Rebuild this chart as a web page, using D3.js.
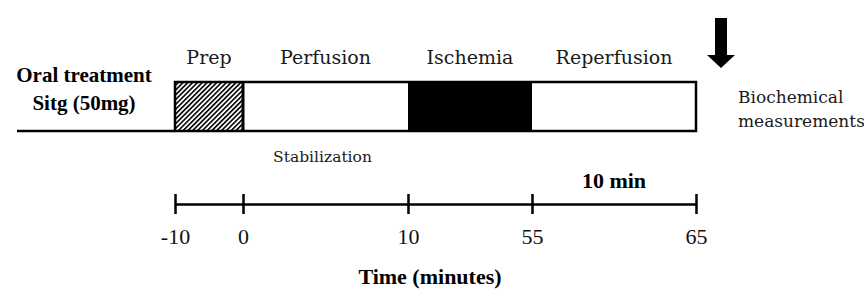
<!DOCTYPE html>
<html>
<head>
<meta charset="utf-8">
<script src="https://cdn.jsdelivr.net/npm/d3@7.9.0/dist/d3.min.js"></script>
<style>
  body { margin: 0; background: #fff; }
  svg { display: block; }
</style>
</head>
<body>
<div id="chart"></div>
<script>
// protocol phases and their time boundaries (minutes)
const phaseNames = ["Prep", "Perfusion", "Ischemia", "Reperfusion"];
const phaseFills = ["hatch", "white", "black", "white"];
const timePoints = [-10, 0, 10, 55, 65];
const treatmentLines = ["Oral treatment", "Sitg (50mg)"];
const endLines = ["Biochemical", "measurements"];
const subLabel = "Stabilization";
const spanLabel = "10 min";
const axisTitle = "Time (minutes)";

const width = 864, height = 291;
// schematic (non-proportional) timeline
const x = d3.scaleLinear().domain(timePoints).range([175, 243, 408, 532, 696]);

const svg = d3.select("#chart").append("svg")
  .attr("width", width)
  .attr("height", height);

const defs = svg.append("defs");
const pat = defs.append("pattern")
  .attr("id", "hatch")
  .attr("patternUnits", "userSpaceOnUse")
  .attr("width", 3.4).attr("height", 3.4)
  .attr("patternTransform", "rotate(45)");
pat.append("rect").attr("width", 3.4).attr("height", 3.4).attr("fill", "#fff");
pat.append("line")
  .attr("x1", 0).attr("y1", 0).attr("x2", 0).attr("y2", 3.4)
  .attr("stroke", "#000").attr("stroke-width", 3.2);

const boxTop = 82, boxBottom = 131;
const serif = "'Liberation Serif', 'Times New Roman', serif";
const serif2 = "'DejaVu Serif', serif";

// baseline leading into the box
svg.append("line")
  .attr("x1", 17).attr("x2", x(timePoints[0]))
  .attr("y1", boxBottom).attr("y2", boxBottom)
  .attr("stroke", "#000").attr("stroke-width", 2.5);

const phases = phaseNames.map((name, i) => ({
  name: name, fill: phaseFills[i], t0: timePoints[i], t1: timePoints[i + 1]
}));

svg.append("g").selectAll("rect")
  .data(phases)
  .enter().append("rect")
  .attr("x", d => x(d.t0))
  .attr("y", boxTop)
  .attr("width", d => x(d.t1) - x(d.t0))
  .attr("height", boxBottom - boxTop)
  .attr("fill", d => d.fill === "hatch" ? "url(#hatch)" : (d.fill === "black" ? "#000" : "#fff"));

// outer frame
svg.append("rect")
  .attr("x", x(timePoints[0])).attr("y", boxTop)
  .attr("width", x(timePoints[timePoints.length - 1]) - x(timePoints[0]))
  .attr("height", boxBottom - boxTop)
  .attr("fill", "none").attr("stroke", "#000").attr("stroke-width", 2.5);

// divider between prep and perfusion
svg.append("line")
  .attr("x1", x(0)).attr("x2", x(0))
  .attr("y1", boxTop).attr("y2", boxBottom)
  .attr("stroke", "#000").attr("stroke-width", 3);

svg.append("g").selectAll("text")
  .data(phases)
  .enter().append("text")
  .attr("x", d => (x(d.t0) + x(d.t1)) / 2)
  .attr("y", 64)
  .attr("text-anchor", "middle")
  .attr("font-family", serif2)
  .attr("font-size", 19)
  .attr("fill", "#1a1a1a")
  .text(d => d.name);

svg.append("text")
  .attr("x", (x(0) + x(10)) / 2 - 3)
  .attr("y", 162)
  .attr("text-anchor", "middle")
  .attr("font-family", serif2)
  .attr("font-size", 15.5)
  .attr("fill", "#1a1a1a")
  .text(subLabel);

svg.append("g").selectAll("text")
  .data(treatmentLines)
  .enter().append("text")
  .attr("x", 84)
  .attr("y", (d, i) => 82 + i * 28)
  .attr("text-anchor", "middle")
  .attr("font-family", serif)
  .attr("font-weight", "bold")
  .attr("font-size", 21)
  .text(d => d);

svg.append("g").selectAll("text")
  .data(endLines)
  .enter().append("text")
  .attr("x", 738)
  .attr("y", (d, i) => 103 + i * 24)
  .attr("font-family", serif2)
  .attr("font-size", 17)
  .attr("fill", "#1a1a1a")
  .text(d => d);

// downward arrow
const ax = 721;
svg.append("path")
  .attr("d", `M${ax - 6},18 L${ax + 6},18 L${ax + 6},55 L${ax + 14},55 L${ax},68 L${ax - 14},55 L${ax - 6},55 Z`)
  .attr("fill", "#000");

// time axis
const axisY = 204;
const axis = svg.append("g")
  .attr("transform", `translate(0,${axisY})`)
  .call(d3.axisBottom(x).tickValues(timePoints).tickFormat(d => String(d))
    .tickSize(10).tickSizeOuter(0).tickPadding(14));
axis.select(".domain").attr("stroke", "#000").attr("stroke-width", 2.5);
axis.selectAll(".tick line").attr("y1", -10).attr("y2", 10).attr("stroke", "#000").attr("stroke-width", 2.5);
axis.selectAll(".tick text")
  .attr("font-family", serif)
  .attr("font-size", 22)
  .attr("fill", "#111");

svg.append("text")
  .attr("x", (x(55) + x(65)) / 2)
  .attr("y", 188)
  .attr("text-anchor", "middle")
  .attr("font-family", serif)
  .attr("font-weight", "bold")
  .attr("font-size", 22)
  .text(spanLabel);

svg.append("text")
  .attr("x", 430)
  .attr("y", 284)
  .attr("text-anchor", "middle")
  .attr("font-family", serif)
  .attr("font-weight", "bold")
  .attr("font-size", 22)
  .text(axisTitle);
</script>
</body>
</html>
